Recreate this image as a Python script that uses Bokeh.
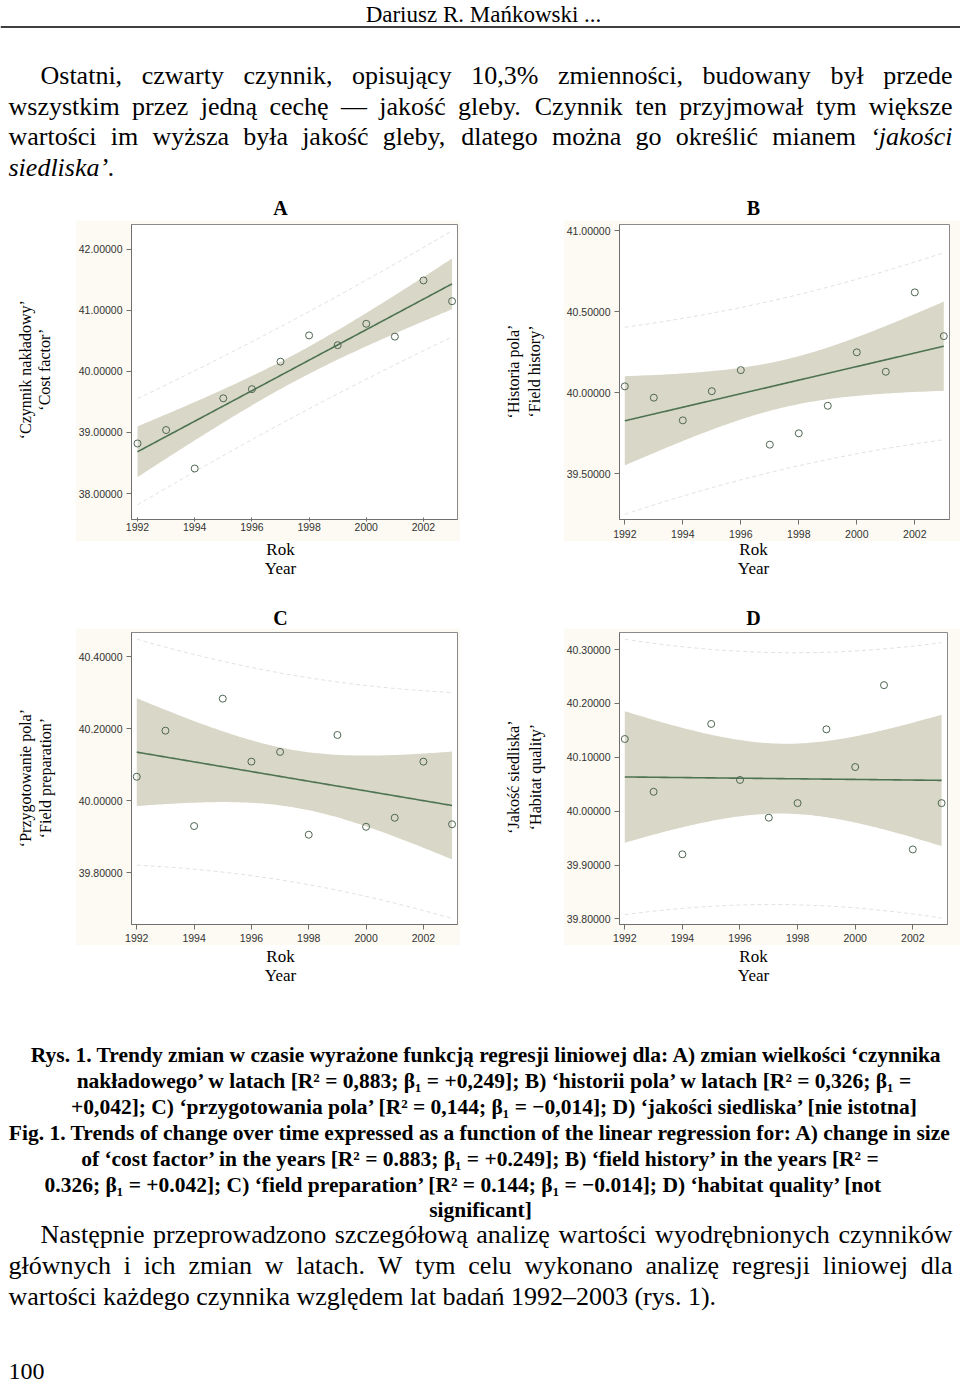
import numpy as np
from bokeh.plotting import figure
from bokeh.models import Range1d, FixedTicker, PrintfTickFormatter, Span
from bokeh.layouts import column, row
from bokeh.embed import file_html
from bokeh.resources import INLINE
from bokeh.core.properties import value

# ---------------- data ----------------
years = list(range(1992, 2004))
cost_factor = [38.82, 39.04, 38.41, 39.56, 39.71, 40.16, 40.59, 40.43, 40.78, 40.57, 41.49, 41.15]
field_history = [40.04, 39.97, 39.83, 40.01, 40.14, 39.68, 39.75, 39.92, 40.25, 40.13, 40.62, 40.35]
field_preparation = [40.066, 40.194, 39.929, 40.283, 40.108, 40.135, 39.905, 40.182, 39.927, 39.952, 40.108, 39.934]
habitat_quality = [40.134, 40.036, 39.920, 40.162, 40.058, 39.988, 40.015, 40.152, 40.082, 40.234, 39.929, 40.015]

x_ticks = [1992, 1994, 1996, 1998, 2000, 2002]
ticks_A = [38.0, 39.0, 40.0, 41.0, 42.0]
ticks_B = [39.5, 40.0, 40.5, 41.0]
ticks_C = [39.8, 40.0, 40.2, 40.4]
ticks_D = [39.8, 39.9, 40.0, 40.1, 40.2, 40.3]

ylabel_A = ["‘Czynnik nakładowy’", "‘Cost factor’"]
ylabel_B = ["‘Historia pola’", "‘Field history’"]
ylabel_C = ["‘Przygotowanie pola’", "‘Field preparation’"]
ylabel_D = ["‘Jakość siedliska’", "‘Habitat quality’"]
xlabel = ["Rok", "Year"]
panel_letters = ["A", "B", "C", "D"]

header = "Dariusz R. Mańkowski ..."
para1 = [
    "Ostatni, czwarty czynnik, opisujący 10,3% zmienności, budowany był przede",
    "wszystkim przez jedną cechę — jakość gleby. Czynnik ten przyjmował tym większe",
    "wartości im wyższa była jakość gleby, dlatego można go określić mianem ‘jakości",
]
para1_last = "siedliska’."
caption = [
    "Rys. 1. Trendy zmian w czasie wyrażone funkcją regresji liniowej dla: A) zmian wielkości ‘czynnika",
    "nakładowego’ w latach [R² = 0,883; β₁ = +0,249]; B) ‘historii pola’ w latach [R² = 0,326; β₁ =",
    "+0,042]; C) ‘przygotowania pola’ [R² = 0,144; β₁ = −0,014]; D) ‘jakości siedliska’ [nie istotna]",
    "Fig. 1. Trends of change over time expressed as a function of the linear regression for: A) change in size",
    "of ‘cost factor’ in the years [R² = 0.883; β₁ = +0.249]; B) ‘field history’ in the years [R² =",
    "0.326; β₁ = +0.042]; C) ‘field preparation’ [R² = 0.144; β₁ = −0.014]; D) ‘habitat quality’ [not",
    "significant]",
]
para2 = [
    "Następnie przeprowadzono szczegółową analizę wartości wyodrębnionych czynników",
    "głównych i ich zmian w latach. W tym celu wykonano analizę regresji liniowej dla",
]
para2_last = "wartości każdego czynnika względem lat badań 1992–2003 (rys. 1)."
page_number = "100"

# ---------------- styles ----------------
CREAM = "#fcfaf2"
BAND = "#d9d7c7"
LINE = "#4e7352"
PT = "#4f6652"
SERIF = "Liberation Serif"
SANS = "Liberation Sans"
BODY = 26
W = 960

TR = {' ': 250, '!': 333, '%': 833, '(': 333, ')': 333, ',': 250, '-': 333, '.': 250, ':': 278,
      ';': 278, '—': 1000, '–': 500, '‘': 333, '’': 333,
      'A': 722, 'B': 667, 'C': 667, 'D': 722, 'E': 611, 'F': 556, 'G': 722, 'H': 722, 'I': 333,
      'J': 389, 'K': 722, 'L': 611, 'M': 889, 'N': 722, 'O': 722, 'P': 556, 'R': 667, 'S': 556,
      'T': 611, 'W': 944,
      'a': 444, 'b': 500, 'c': 444, 'd': 500, 'e': 444, 'f': 333, 'g': 500, 'h': 500, 'i': 278,
      'j': 278, 'k': 500, 'l': 278, 'm': 778, 'n': 500, 'o': 500, 'p': 500, 'q': 500, 'r': 333,
      's': 389, 't': 278, 'u': 500, 'v': 500, 'w': 722, 'x': 500, 'y': 500, 'z': 444}
TI = {'a': 500, 'c': 444, 'd': 500, 'e': 444, 'i': 278, 'j': 278, 'k': 444, 'l': 278, 'o': 500,
      's': 389, '‘': 333, '’': 333, '.': 250}
BASE = {'ą': 'a', 'ę': 'e', 'ł': 'l', 'ń': 'n', 'ó': 'o', 'ś': 's', 'ź': 'z', 'ż': 'z', 'ć': 'c'}


def twidth(s, table, size):
    return sum(table.get(BASE.get(c, c), 500) for c in s) * size / 1000.0


def strip(y0, y1):
    p = figure(width=W, height=y1 - y0, x_range=Range1d(0, W), y_range=Range1d(y1, y0),
               x_axis_type=None, y_axis_type=None, toolbar_location=None, tools="",
               output_backend="svg", min_border=0)
    p.outline_line_color = None
    p.grid.visible = False
    return p


def put(p, xs, ys, texts, size, align="left", style="normal", font=SERIF, color="#000000"):
    p.text(x=xs, y=ys, text=texts, text_font=value(font), text_font_size=value(f"{size}px"),
           text_align=align, text_baseline="middle", text_font_style=style, text_color=color)


def justified(p, line, x0, x1, y, size, italic_last=False):
    words = line.split(" ")
    ws = []
    for i, w in enumerate(words):
        tab = TI if (italic_last and i == len(words) - 1) else TR
        ws.append(twidth(w, tab, size))
    gap = (x1 - x0 - sum(ws)) / (len(words) - 1)
    xs, x = [], x0
    for w in ws:
        xs.append(x)
        x += w + gap
    n = len(words) - 1
    put(p, xs[:n], [y] * n, words[:n], size)
    put(p, [x1], [y], [words[-1]], size, align="right",
        style="italic" if italic_last else "normal")


def ylab_fig(x0, x1, y0, y1, lines, xs, yc):
    p = figure(width=x1 - x0, height=y1 - y0, x_range=Range1d(x0, x1), y_range=Range1d(y1, y0),
               x_axis_type=None, y_axis_type=None, toolbar_location=None, tools="",
               output_backend="svg", min_border=0)
    p.outline_line_color = None
    p.grid.visible = False
    p.text(x=xs, y=[yc, yc], text=lines, angle=np.pi / 2, text_align="center",
           text_baseline="middle", text_font=value(SERIF), text_font_size=value("16px"),
           text_color="#000000")
    return p


def chart(vals, fw, fh, xr, yr, yticks, borders, xt_out, xt_in, xstand):
    l, r, t, b = borders
    p = figure(width=fw, height=fh, x_range=Range1d(*xr), y_range=Range1d(*yr),
               toolbar_location=None, tools="", output_backend="svg",
               min_border_left=l, min_border_right=r, min_border_top=t, min_border_bottom=b)
    p.border_fill_color = CREAM
    p.background_fill_color = "white"
    p.outline_line_color = "#8a8a8a"
    p.grid.visible = False

    xs = np.array(years, dtype=float)
    ys = np.array(vals, dtype=float)
    n = len(xs)
    b1, b0 = np.polyfit(xs, ys, 1)
    res = ys - (b0 + b1 * xs)
    s = np.sqrt(np.sum(res ** 2) / (n - 2))
    sxx = np.sum((xs - xs.mean()) ** 2)
    g = np.linspace(xs.min(), xs.max(), 121)
    fit = b0 + b1 * g
    se = s * np.sqrt(1.0 / n + (g - xs.mean()) ** 2 / sxx)
    spred = s * np.sqrt(1.0 + 1.0 / n + (g - xs.mean()) ** 2 / sxx)
    tv = 2.228
    p.varea(x=g, y1=fit - tv * se, y2=fit + tv * se, fill_color=BAND)
    p.line(g, fit + tv * spred, line_color="#e0e0e0", line_dash="4 3", line_width=1)
    p.line(g, fit - tv * spred, line_color="#e0e0e0", line_dash="4 3", line_width=1)
    p.line(g, fit, line_color=LINE, line_width=1.6)
    p.scatter(xs, ys, marker="circle", size=7, fill_color=None, line_color=PT, line_width=1)

    p.xaxis.ticker = FixedTicker(ticks=x_ticks)
    p.xaxis.formatter = PrintfTickFormatter(format="%d")
    p.yaxis.ticker = FixedTicker(ticks=yticks)
    p.yaxis.formatter = PrintfTickFormatter(format="%.5f")
    for ax in (p.xaxis, p.yaxis):
        ax.axis_line_color = "#6f6f6f"
        ax.major_tick_line_color = "#6f6f6f"
        ax.minor_tick_line_color = None
        ax.major_label_text_font = SANS
        ax.major_label_text_font_size = "10.5px"
        ax.major_label_text_color = "#333333"
    p.yaxis.major_tick_out = 5
    p.yaxis.major_tick_in = 0
    p.yaxis.major_label_standoff = 4
    p.xaxis.major_tick_out = xt_out
    p.xaxis.major_tick_in = xt_in
    p.xaxis.major_label_standoff = xstand
    return p


# ---------------- top strip (y 0..220) ----------------
top = strip(0, 220)
put(top, [483], [14], [header], 23, align="center")
top.add_layout(Span(location=26.5, dimension="width", line_color="#000000", line_width=1.5))
para1_y = [75, 106, 136]
justified(top, para1[0], 40, 952, para1_y[0], BODY)
justified(top, para1[1], 8, 952, para1_y[1], BODY)
justified(top, para1[2], 8, 952, para1_y[2], BODY, italic_last=True)
put(top, [8], [167], [para1_last], BODY, style="italic")
put(top, [280, 753], [207, 207], panel_letters[:2], 20, align="center", style="bold")

# ---------------- row 1 (y 220..541) ----------------
chA = chart(cost_factor, 385, 321, (1991.79, 2003.19), (37.575, 42.406), ticks_A,
            (54, 3, 4, 16), 2, 2, 1)
chB = chart(field_history, 397, 321, (1991.817, 2003.197), (39.218, 41.039), ticks_B,
            (56, 11, 4, 22), 5, 0, 5)
ylA = ylab_fig(0, 75, 220, 541, ylabel_A, [25, 44], 378)
ylB = ylab_fig(460, 563, 220, 541, ylabel_B, [513, 534], 380)

# ---------------- middle strip (y 541..628) ----------------
mid = strip(541, 628)
put(mid, [280, 280, 753, 753], [549, 568, 549, 568], xlabel * 2, 17, align="center")
put(mid, [280, 753], [617, 617], panel_letters[2:], 20, align="center", style="bold")

# ---------------- row 2 (y 628..945) ----------------
chC = chart(field_preparation, 385, 317, (1991.816, 2003.19), (39.6556, 40.4667), ticks_C,
            (54, 3, 4, 21), 5, 0, 4)
chD = chart(habitat_quality, 397, 317, (1991.816, 2003.205), (39.7897, 40.3317), ticks_D,
            (56, 13, 4, 21), 5, 0, 4)
ylC = ylab_fig(0, 75, 628, 945, ylabel_C, [25, 45], 786)
ylD = ylab_fig(460, 563, 628, 945, ylabel_D, [513, 535], 785)

# ---------------- bottom strip (y 945..1390) ----------------
bot = strip(945, 1390)
put(bot, [280, 280, 753, 753], [956, 975, 956, 975], xlabel * 2, 17, align="center")
cap_y = [1054, 1080, 1106, 1132, 1158, 1184, 1209]
cap_x = [486, 495, 495, 480, 481, 464, 480]
put(bot, cap_x, cap_y, caption, 21.5, align="center", style="bold")
justified(bot, para2[0], 40, 952, 1234, BODY)
justified(bot, para2[1], 8, 952, 1265, BODY)
put(bot, [8], [1296], [para2_last], BODY)
put(bot, [8], [1371], [page_number], 24)

layout = column(
    top,
    row(ylA, chA, ylB, chB, spacing=0),
    mid,
    row(ylC, chC, ylD, chD, spacing=0),
    bot,
    spacing=0,
)

open("out.html", "w").write(file_html(layout, INLINE))
